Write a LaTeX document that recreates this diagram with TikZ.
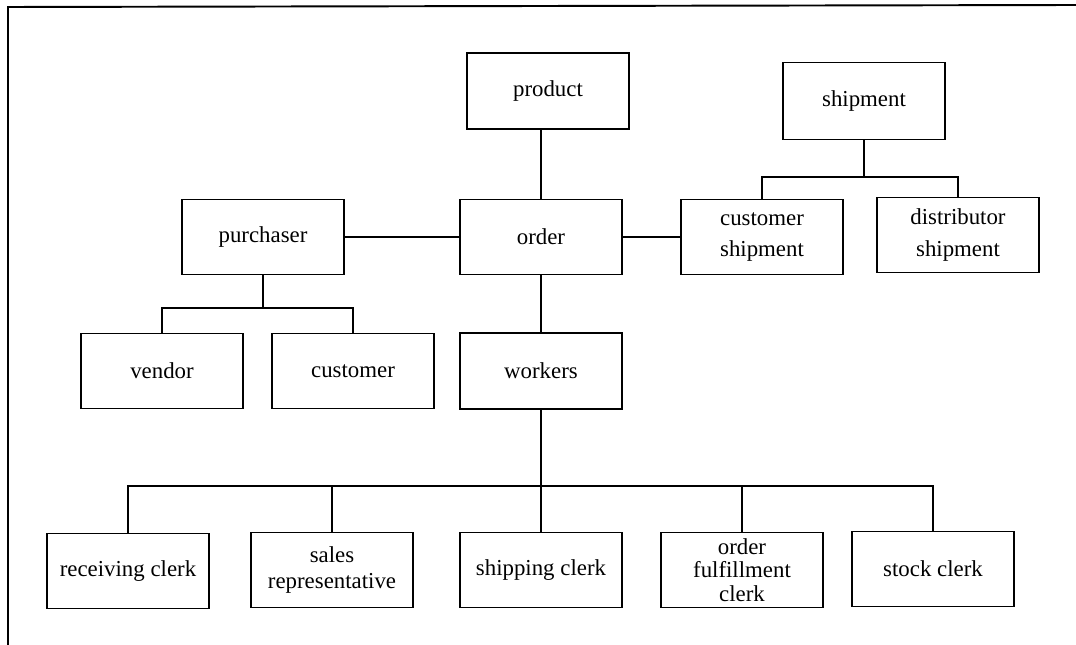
\documentclass[tikz,border=0pt]{standalone}
\usepackage{fontspec}
\setmainfont{Liberation Serif}

\begin{document}
\begin{tikzpicture}[x=0.02cm, y=-0.02cm,
  box/.style = {draw, line width=0.8pt, minimum width=3.24cm, minimum height=#1, inner sep=1pt, align=center, font=\fontsize{13}{15}\selectfont},
  box/.default = 1.5cm,
  link/.style = {line width=0.8pt}]

\useasboundingbox (0,0) rectangle (1076,645);

% Frame
\draw[line width=1.1pt] (8,645) -- (8,7) -- (1076,5);

% Top row
\node[box=1.52cm] (product) at (548,91) {product};
\node[box=1.54cm] (shipment) at (864,101) {shipment};

% Middle row
\node[box] (purchaser) at (263,237) {purchaser};
\node[box] (order) at (541,237) {order};
\node[box] (cship) at (762,237) {customer\\[3pt]shipment};
\node[box] (dship) at (958,235) {distributor\\[3pt]shipment};

\node[box] (vendor) at (162,371) {vendor};
\node[box] (customer) at (353,371) {customer};
\node[box=1.52cm] (workers) at (541,371) {workers};

% Bottom row
\node[box] (receiving) at (128,571) {receiving clerk};
\node[box] (sales) at (332,570) {sales\\representative};
\node[box] (shipping) at (541,570) {shipping clerk};
\node[box, font=\fontsize{13}{13.5}\selectfont] (fulfil) at (742,570) {order\\fulfillment\\clerk};
\node[box] (stock) at (933,569) {stock clerk};

% Lines
\draw[link] (order) -- (order |- product.south);
\draw[link] (purchaser) -- (order);
\draw[link] (order) -- (cship);

\coordinate (pbus) at (263,308);
\draw[link] (purchaser) -- (pbus);
\draw[link] (vendor.north) |- (pbus) -| (customer.north);

\coordinate (sbus) at (864,177);
\draw[link] (shipment) -- (sbus);
\draw[link] (cship.north) |- (sbus) -| (dship.north);

\coordinate (wbus) at (541,486);
\draw[link] (order) -- (workers);
\draw[link] (workers) -- (wbus);
\foreach \n in {receiving, sales, shipping, fulfil, stock} {
  \draw[link] (wbus) -| (\n.north);
}

\end{tikzpicture}
\end{document}
